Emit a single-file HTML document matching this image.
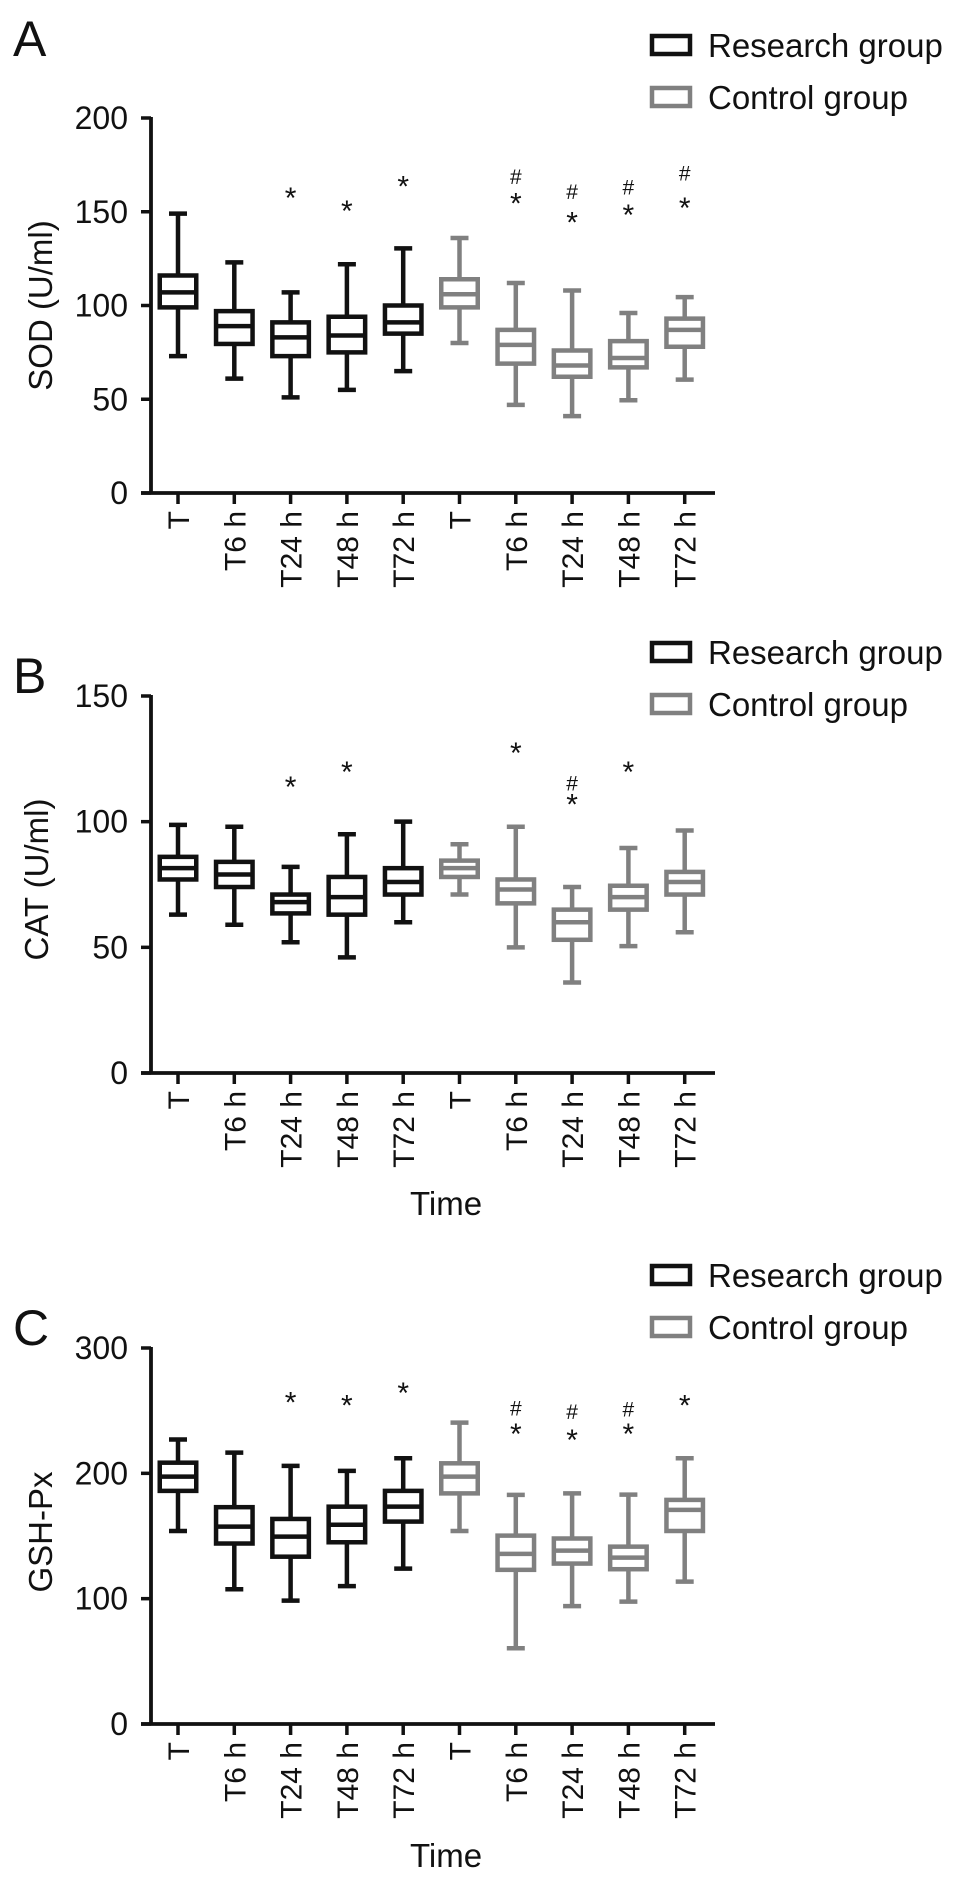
<!DOCTYPE html>
<html><head><meta charset="utf-8"><style>
html,body{margin:0;padding:0;background:#fff;}
svg{display:block;font-family:"Liberation Sans",Arial,sans-serif;}
</style></head><body>
<svg id="fig" width="969" height="1882" viewBox="0 0 969 1882" xmlns="http://www.w3.org/2000/svg"></svg>
<script>
const categories = ["T","T6 h","T24 h","T48 h","T72 h","T","T6 h","T24 h","T48 h","T72 h"];
const groups = ["research","research","research","research","research","control","control","control","control","control"];

const sodMax = [149,123,107,122,130.5,136,112,108,96,104.5];
const sodQ3  = [116,97,91,94,100,114,87,76,81,93];
const sodMed = [107,89,83,84,91,106,79,68,72,87];
const sodQ1  = [99,79.5,73,75,85,99,69,62,67,78];
const sodMin = [73,61,51,55,65,80,47,41,49.5,60.5];
const sodStar = [null,null,159,152,165,null,156,146,150,153.5];
const sodHash = [null,null,null,null,null,null,169,161,163.5,171];
const sodTicks = [0,50,100,150,200];

const catMax = [98.7,98,82,95,100,91,98,74,89.5,96.5];
const catQ3  = [86,84,71,78,81.5,84.5,77,65,74.5,80];
const catMed = [81.5,79,68,70,76,81.5,73,60,70,76];
const catQ1  = [77,74,63.5,63,71,78,67.5,53,65,71];
const catMin = [63,59,52,46,60,71,50,36,50.5,56];
const catStar = [null,null,115,121,null,null,128.5,108,121,null];
const catHash = [null,null,null,null,null,null,null,115.5,null,null];
const catTicks = [0,50,100,150];

const gshMax = [227,216.5,206,202,212,240.5,182.8,184,183,212];
const gshQ3  = [208.5,173,163.6,173.4,186,208,150.3,148,141.5,178.8];
const gshMed = [197.4,157.5,149.5,159,173.4,197.4,135.7,138.3,132.7,170.8];
const gshQ1  = [186,144,133.5,145,161.5,184,123,128,123.5,154];
const gshMin = [154,107.5,98.4,110,124,154,60.4,94,97.6,113.6];
const gshStar = [null,null,259,256.4,266.6,null,233.8,228.8,233.8,256.4];
const gshHash = [null,null,null,null,null,null,252.4,249.8,251.9,null];
const gshTicks = [0,100,200,300];

const NS="http://www.w3.org/2000/svg";
const svg=document.getElementById('fig');
const BLACK="#111", GREY="#808080";
function mk(tag,attrs,parent){const e=document.createElementNS(NS,tag);for(const k in attrs)e.setAttribute(k,attrs[k]);(parent||svg).appendChild(e);return e;}

const AX=151, AXEND=715, X0=178, STEP=56.3, BW=41, CW=18, SW=4.5;
function xPos(i){return X0+i*STEP;}

function panel(cfg){
  const g=mk('g',{});
  
  
  const Y=v=>cfg.y0-(v/cfg.vmax)*(cfg.y0-cfg.yTop);
  // letter
  const L=mk('text',{x:13,y:cfg.letterY,'font-size':50,fill:'#111'},g);L.textContent=cfg.letter;
  
  
  // axes
  const ya=mk('line',{x1:AX,y1:cfg.yTop-1,x2:AX,y2:cfg.y0,stroke:BLACK,'stroke-width':3.8},g);
  
  
  const xa=mk('line',{x1:AX-10,y1:cfg.y0,x2:AXEND,y2:cfg.y0,stroke:BLACK,'stroke-width':3.8},g);
  
  
  cfg.ticks.forEach(t=>{
    const y=Y(t);
    mk('line',{x1:AX-10,y1:y,x2:AX,y2:y,stroke:BLACK,'stroke-width':3.5},g);
    const tx=mk('text',{x:128,y:y+11,'font-size':32,'text-anchor':'end',fill:'#111'},g);
    tx.textContent=t;
    
    
  });
  // y title
  const yt=mk('text',{x:0,y:0,'font-size':33,'text-anchor':'middle',fill:'#111',transform:`translate(${cfg.titleX},${(cfg.yTop+cfg.y0)/2+cfg.titleDy}) rotate(-90)`},g);
  yt.textContent=cfg.title;
  
  
  categories.forEach((c,i)=>{
    const x=xPos(i);
    mk('line',{x1:x,y1:cfg.y0,x2:x,y2:cfg.y0+11,stroke:BLACK,'stroke-width':3.5},g);
    const lb=mk('text',{x:0,y:0,'font-size':30,'text-anchor':'end',fill:'#111',transform:`translate(${x+11},${cfg.y0+18}) rotate(-90)`},g);
    lb.textContent=c;
    
    
    const col=groups[i]==='research'?BLACK:GREY;
    const bg=mk('g',{stroke:col,'stroke-width':SW,fill:'none'},g);
    
    
    const hi=Y(cfg.max[i]),q3=Y(cfg.q3[i]),md=Y(cfg.med[i]),q1=Y(cfg.q1[i]),lo=Y(cfg.min[i]);
    mk('line',{x1:x,y1:hi,x2:x,y2:q3},bg);
    mk('line',{x1:x,y1:q1,x2:x,y2:lo},bg);
    mk('line',{x1:x-CW/2,y1:hi,x2:x+CW/2,y2:hi},bg);
    mk('line',{x1:x-CW/2,y1:lo,x2:x+CW/2,y2:lo},bg);
    mk('rect',{x:x-BW/2+SW/2,y:q3,width:BW-SW,height:q1-q3},bg);
    mk('line',{x1:x-BW/2+SW/2,y1:md,x2:x+BW/2-SW/2,y2:md},bg);
    if(cfg.star[i]!==null){
      const s=mk('text',{x:x,y:Y(cfg.star[i])+13,'font-size':30,'text-anchor':'middle',fill:'#111'},g);
      s.textContent='*';
      
      
    }
    if(cfg.hash[i]!==null){
      const h=mk('text',{x:x,y:Y(cfg.hash[i])+8,'font-size':21,'text-anchor':'middle',fill:'#111'},g);
      h.textContent='#';
      
      
    }
  });
  // legend
  [[cfg.legY,BLACK,'Research group','research'],[cfg.legY+52,GREY,'Control group','control']].forEach(l=>{
    const lg=mk('g',{},g);
    
    
    mk('rect',{x:652,y:l[0]-9,width:38,height:18,fill:'none',stroke:l[1],'stroke-width':4.5},lg);
    const t=mk('text',{x:708,y:l[0]+12,'font-size':33,fill:'#111'},lg);
    t.textContent=l[2];
  });
  if(cfg.time){
    const tt=mk('text',{x:446,y:cfg.time,'font-size':33,'text-anchor':'middle',fill:'#111'},g);
    tt.textContent='Time';
    
    
  }
}

panel({name:'sod',letter:'A',letterY:56,yTop:118,y0:493,vmax:200,ticks:sodTicks,title:'SOD (U/ml)',titleX:52,titleDy:0,
  max:sodMax,q3:sodQ3,med:sodMed,q1:sodQ1,min:sodMin,star:sodStar,hash:sodHash,legY:45,time:null});
panel({name:'cat',letter:'B',letterY:693,yTop:696,y0:1073,vmax:150,ticks:catTicks,title:'CAT (U/ml)',titleX:48,titleDy:-5,
  max:catMax,q3:catQ3,med:catMed,q1:catQ1,min:catMin,star:catStar,hash:catHash,legY:652,time:1215});
panel({name:'gsh',letter:'C',letterY:1345,yTop:1348,y0:1724,vmax:300,ticks:gshTicks,title:'GSH-Px',titleX:52,titleDy:-4,
  max:gshMax,q3:gshQ3,med:gshMed,q1:gshQ1,min:gshMin,star:gshStar,hash:gshHash,legY:1275,time:1867});
</script>
</body></html>
